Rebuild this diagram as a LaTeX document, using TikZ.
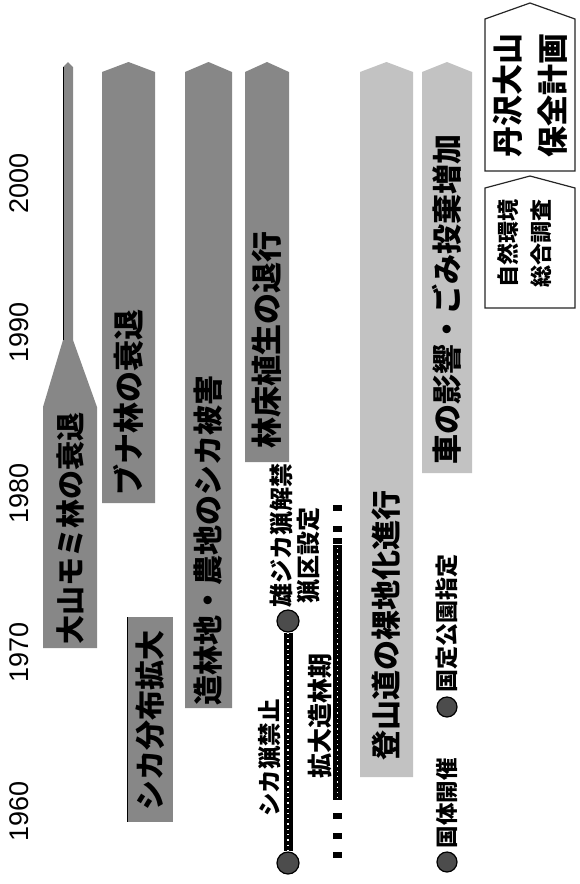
\documentclass[tikz,border=0pt]{standalone}
\usepackage{fontspec}
\newfontfamily\jp{Noto Sans CJK JP}
\newfontfamily\yrfont{Liberation Sans}
\tikzset{
  dark/.style={fill=black!47},
  light/.style={fill=black!24},
  bandtext/.style={rotate=90, inner sep=0pt, font=\jp\bfseries\fontsize{#1}{#1}\selectfont},
  bandtext/.default=29,
  smalltext/.style={rotate=90, inner sep=0pt, font=\jp\bfseries\fontsize{#1}{#1}\selectfont},
  smalltext/.default=23,
  yearlabel/.style={rotate=90, inner sep=0pt, font=\yrfont\fontsize{27}{27}\selectfont},
  marker/.style={circle, draw=black, line width=1.2pt, fill=black!70, minimum size=#1, inner sep=0pt},
  marker/.default=22pt,
  planbox/.style={draw=black!85, line width=1.2pt, fill=white},
  thickbar/.style={draw=black, line width=9pt, line cap=butt},
  dotline/.style={draw=white, line width=1.3pt, dash pattern=on 1.3pt off 4pt},
}
\begin{document}
\begin{tikzpicture}[x=1pt,y=-1pt]
\useasboundingbox (0,0) rectangle (579,884);
% year labels
\node[yearlabel] (y2000) at (19,183) {2000};
\node[yearlabel] (y1990) at (19,332) {1990};
\node[yearlabel] (y1980) at (19,493) {1980};
\node[yearlabel] (y1970) at (19,652) {1970};
\node[yearlabel] (y1960) at (19,811) {1960};
% Oyama fir band with thin trailing line
\fill[dark] (63,340) -- (63,67) -- (68,62) -- (73,67) -- (73,340) -- (97,407) -- (97,648) -- (43,648) -- (43,407) -- cycle;
\draw[line width=1pt] (63,67) -- (63,340);
\node[bandtext] (momi) at (70,528) {大山モミ林の衰退};
% beech band
\fill[dark] (102,72) -- (128.5,62) -- (155,72) -- (155,503) -- (102,503) -- cycle;
\node[bandtext=31] (buna) at (128.5,402) {ブナ林の衰退};
% deer distribution
\fill[dark] (127,617) rectangle (173,822);
\draw[line width=1pt] (127,617) -- (127,822);
\node[bandtext=30] (deer) at (150,720) {シカ分布拡大};
% plantation damage
\fill[dark] (185,72) -- (208.5,62) -- (232,72) -- (232,708) -- (185,708) -- cycle;
\node[bandtext=30] (damage) at (208.5,540) {造林地・農地のシカ被害};
% forest floor
\fill[dark] (245,72) -- (267,62) -- (289,72) -- (289,462) -- (245,462) -- cycle;
\node[bandtext=31] (floor) at (267,340) {林床植生の退行};
% trail
\fill[light] (360,72) -- (386.5,62) -- (413,72) -- (413,777) -- (360,777) -- cycle;
\node[bandtext=30] (trail) at (386.5,625) {登山道の裸地化進行};
% cars
\fill[light] (422,72) -- (447,62) -- (472,72) -- (472,473) -- (422,473) -- cycle;
\node[bandtext=30] (cars) at (447,299) {車の影響・ごみ投棄増加};
% hunting ban line
\node[marker] (m1) at (288,621) {};
\node[marker] (m2) at (288,863) {};
\draw[thickbar] (m1.south) -- (m2.north);
\draw[dotline] (m1.south) -- (m2.north);
\node[smalltext=24] (maleopen) at (282,535) {雄ジカ猟解禁};
\node[smalltext=24] (area) at (309,555) {猟区設定};
\node[smalltext=23.5] (ban) at (270,758) {シカ猟禁止};
% afforestation period
\fill (333,545) rectangle (342,800);
\draw[dotline] (337.5,548) -- (337.5,798);
\foreach \yy in {505,526,538,813,833,852} \fill (333,\yy) rectangle (342,\yy+6);
\node[smalltext=25] (afforest) at (320,716) {拡大造林期};
% legend events
\node[marker=20pt] (e1) at (447,707) {};
\node[smalltext] (park) at (447,623) {国定公園指定};
\node[marker=20pt] (e2) at (447,862) {};
\node[smalltext=22.5] (kokutai) at (447,803) {国体開催};
% plan boxes
\draw[planbox] (485,171) -- (485,19) -- (530,3) -- (575,19) -- (575,171) -- cycle;
\node[rotate=90, inner sep=0pt, align=center, font=\jp\bfseries\fontsize{31}{45}\selectfont] (plan) at (530,95) {丹沢大山\\保全計画};
\draw[planbox] (485,308) -- (485,188) -- (530,176) -- (575,188) -- (575,308) -- cycle;
\node[rotate=90, inner sep=0pt, align=center, font=\jp\bfseries\fontsize{22}{33}\selectfont] (survey) at (525,243) {自然環境\\総合調査};
\end{tikzpicture}
\end{document}
